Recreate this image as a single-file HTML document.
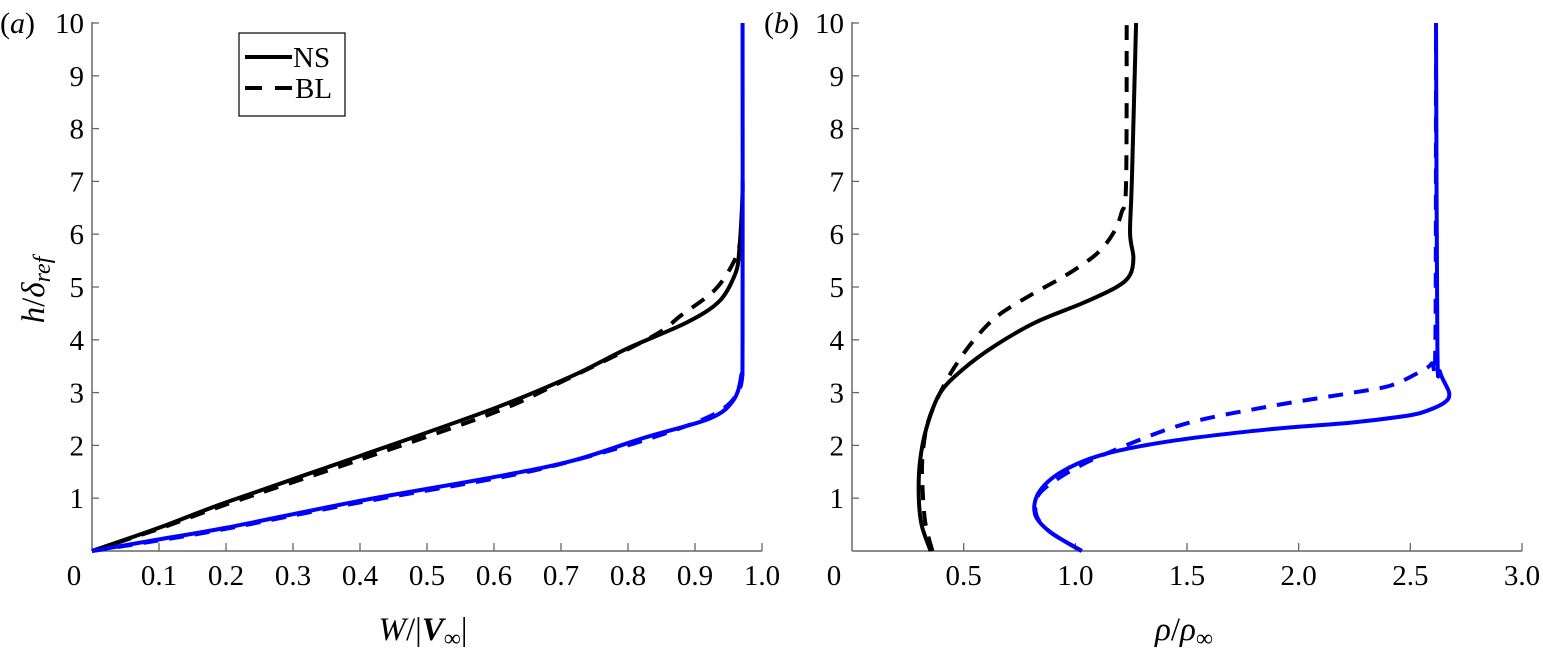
<!DOCTYPE html>
<html><head><meta charset="utf-8"><style>
html,body{margin:0;padding:0;background:#fff;}
svg{display:block;}
svg text{font-family:"Liberation Serif","Times New Roman","DejaVu Serif",serif;}
</style></head><body>
<svg id="chart" width="1543" height="653" viewBox="0 0 1543 653" font-family="Liberation Serif, serif">
<g id="pa"></g>
<g id="pb"></g>
<text x="0" y="33" font-size="30" font-family="Liberation Serif, serif">(<tspan font-style="italic">a</tspan>)</text>
<text x="764" y="33" font-size="30" font-family="Liberation Serif, serif">(<tspan font-style="italic">b</tspan>)</text>
<text x="423" y="640" font-size="33" text-anchor="middle" font-family="Liberation Serif, serif"><tspan font-style="italic">W</tspan>/|<tspan font-weight="bold" font-style="italic">V</tspan><tspan font-size="24" dy="6">∞</tspan><tspan dy="-6">|</tspan></text>
<text x="1184" y="640" font-size="33" text-anchor="middle" font-family="Liberation Serif, serif"><tspan font-style="italic">ρ</tspan>/<tspan font-style="italic">ρ</tspan><tspan font-size="24" dy="6">∞</tspan></text>
<text transform="translate(44,290) rotate(-90)" font-size="33" text-anchor="middle" font-family="Liberation Serif, serif"><tspan font-style="italic">h</tspan>/<tspan font-style="italic">δ</tspan><tspan font-size="24" dy="6" font-style="italic">ref</tspan></text>
<g>
<rect x="239" y="33" width="106" height="83" fill="#fff" stroke="#000" stroke-width="1.2"/>
<line x1="245" y1="57" x2="292" y2="57" stroke="#000" stroke-width="4"/>
<text x="293" y="67" font-size="29" font-family="Liberation Serif, serif">NS</text>
<line x1="245" y1="88" x2="292" y2="88" stroke="#000" stroke-width="4" stroke-dasharray="17 13"/>
<text x="295" y="98" font-size="29" font-family="Liberation Serif, serif">BL</text>
</g>
</svg>
<script>
// Panel (a) data
const aBlackNS_W = [0,0.1,0.2,0.4,0.6,0.7175,0.798,0.888,0.937,0.961,0.966,0.969,0.971,0.971];
const aBlackNS_h = [0,0.44,0.92,1.80,2.70,3.32,3.83,4.33,4.74,5.28,5.69,6.23,6.8,7];
const aBlackBL_W = [0,0.1,0.2,0.4,0.6,0.7,0.836,0.879,0.93,0.958,0.968,0.971];
const aBlackBL_h = [0,0.42,0.88,1.73,2.62,3.2,4.06,4.46,4.95,5.48,5.9,6.5];
const aBlueNS_W = [0,0.1,0.2,0.4,0.6,0.7175,0.823,0.922,0.957,0.969,0.971,0.971];
const aBlueNS_h = [0,0.22,0.44,0.95,1.40,1.71,2.14,2.51,2.85,3.32,4,10];
const aBlueBL_W = [0,0.1,0.2,0.4,0.6,0.7,0.83,0.93,0.966,0.971];
const aBlueBL_h = [0,0.2,0.42,0.92,1.37,1.65,2.12,2.6,3.05,3.6];
// Panel (b) data
const bBlackNS_rho = [0.352,0.312,0.299,0.304,0.334,0.394,0.499,0.648,0.827,1.036,1.185,1.245,1.260,1.245,1.253,1.272];
const bBlackNS_h = [0,0.49,1.02,1.68,2.34,2.99,3.45,3.91,4.34,4.70,5.0,5.23,5.56,6.02,7.0,10];
const bBlackBL_rho = [0.360,0.330,0.318,0.314,0.334,0.379,0.454,0.543,0.648,0.797,0.961,1.096,1.170,1.207,1.227,1.230];
const bBlackBL_h = [0,0.49,1.02,1.68,2.34,2.86,3.45,3.98,4.44,4.84,5.23,5.63,6.02,6.41,6.94,10];
const bBlueNS_rho = [1.029,0.887,0.820,0.834,0.931,1.110,1.409,1.857,2.23,2.45,2.55,2.649,2.674,2.633,2.621,2.615];
const bBlueNS_h = [0,0.36,0.69,1.09,1.48,1.81,2.07,2.30,2.43,2.54,2.62,2.80,2.99,3.39,3.91,10];
const bBlueBL_rho = [1.029,0.887,0.825,0.840,0.976,1.156,1.484,1.857,2.230,2.409,2.528,2.595,2.612,2.615];
const bBlueBL_h = [0,0.36,0.69,1.09,1.51,1.875,2.40,2.73,2.99,3.13,3.36,3.55,3.9,10];
// ticks
const aXTicks = [0.1,0.2,0.3,0.4,0.5,0.6,0.7,0.8,0.9,1.0];
const aXLabels = ["0","0.1","0.2","0.3","0.4","0.5","0.6","0.7","0.8","0.9","1.0"];
const bXTicks = [0.5,1.0,1.5,2.0,2.5,3.0];
const bXLabels = ["0","0.5","1.0","1.5","2.0","2.5","3.0"];
const yTicks = [1,2,3,4,5,6,7,8,9,10];

const NS = "http://www.w3.org/2000/svg";
const Y0 = 551, Y10 = 23;
const yS = h => Y0 + (Y10 - Y0) * h / 10;
const axA = {x0:92, x1:762, max:1.0};
const axB = {x0:852, x1:1522, max:3.0};
const xS = (ax, v) => ax.x0 + (ax.x1 - ax.x0) * v / ax.max;
const FONT = "Liberation Serif, serif";

function mk(tag, attrs, parent){
  const el = document.createElementNS(NS, tag);
  for (const k in attrs) el.setAttribute(k, attrs[k]);
  parent.appendChild(el);
  return el;
}
function smoothPath(pts){
  let d = "M" + pts[0][0].toFixed(2) + "," + pts[0][1].toFixed(2);
  for (let i = 0; i < pts.length - 1; i++){
    const p0 = pts[i-1] || pts[i], p1 = pts[i], p2 = pts[i+1], p3 = pts[i+2] || p2;
    const t = 0.16;
    const c1 = [p1[0] + (p2[0]-p0[0])*t, p1[1] + (p2[1]-p0[1])*t];
    const c2 = [p2[0] - (p3[0]-p1[0])*t, p2[1] - (p3[1]-p1[1])*t];
    d += " C" + c1[0].toFixed(2)+","+c1[1].toFixed(2)+" "+c2[0].toFixed(2)+","+c2[1].toFixed(2)+" "+p2[0].toFixed(2)+","+p2[1].toFixed(2);
  }
  return d;
}
function axes(g, ax, xt, xl, name){
  const ya = mk("line", {x1:ax.x0, y1:Y0, x2:ax.x0, y2:Y10-1, stroke:"#666", "stroke-width":1.5}, g);
  
  
  const xa = mk("line", {x1:ax.x0, y1:Y0, x2:ax.x1, y2:Y0, stroke:"#666", "stroke-width":1.5}, g);
  
  
  xt.forEach(v => {
    const x = xS(ax, v);
    const t = mk("line", {x1:x, y1:Y0, x2:x, y2:Y0-8, stroke:"#666", "stroke-width":1.3}, g);
    
    
  });
  const vals = [0].concat(xt);
  vals.forEach((v, i) => {
    const x = i === 0 ? ax.x0 - 18 : xS(ax, v);
    const tx = mk("text", {x:x, y:585, "font-size":29, "text-anchor":"middle", "font-family":FONT}, g);
    tx.textContent = xl[i];
    
    
  });
  yTicks.forEach(v => {
    const y = yS(v);
    const t = mk("line", {x1:ax.x0, y1:y, x2:ax.x0+7, y2:y, stroke:"#666", "stroke-width":1.3}, g);
    
    
    const tx = mk("text", {x:ax.x0-8, y:y+10, "font-size":29, "text-anchor":"end", "font-family":FONT}, g);
    tx.textContent = String(v);
    
    
  });
}
function series(g, ax, xs, hs, color, dashed, name){
  const pts = xs.map((v, i) => [xS(ax, v), yS(hs[i])]);
  const attrs = {d:smoothPath(pts), fill:"none", stroke:color, "stroke-width":4, "stroke-linejoin":"round"};
  if (dashed) attrs["stroke-dasharray"] = "15 11";
  const p = mk("path", attrs, g);
  
  
}
const ga = document.getElementById("pa"), gb = document.getElementById("pb");
axes(ga, axA, aXTicks, aXLabels, "panel-a");
axes(gb, axB, bXTicks, bXLabels, "panel-b");
const BLUE = "#0000ff";
series(ga, axA, aBlackBL_W, aBlackBL_h, "#000", true, "a-black-bl-line");
series(ga, axA, aBlackNS_W, aBlackNS_h, "#000", false, "a-black-ns-line");
series(ga, axA, aBlueBL_W, aBlueBL_h, BLUE, true, "a-blue-bl-line");
series(ga, axA, aBlueNS_W, aBlueNS_h, BLUE, false, "a-blue-ns-line");
series(gb, axB, bBlackBL_rho, bBlackBL_h, "#000", true, "b-black-bl-line");
series(gb, axB, bBlackNS_rho, bBlackNS_h, "#000", false, "b-black-ns-line");
series(gb, axB, bBlueBL_rho, bBlueBL_h, BLUE, true, "b-blue-bl-line");
series(gb, axB, bBlueNS_rho, bBlueNS_h, BLUE, false, "b-blue-ns-line");
</script>
</body></html>
